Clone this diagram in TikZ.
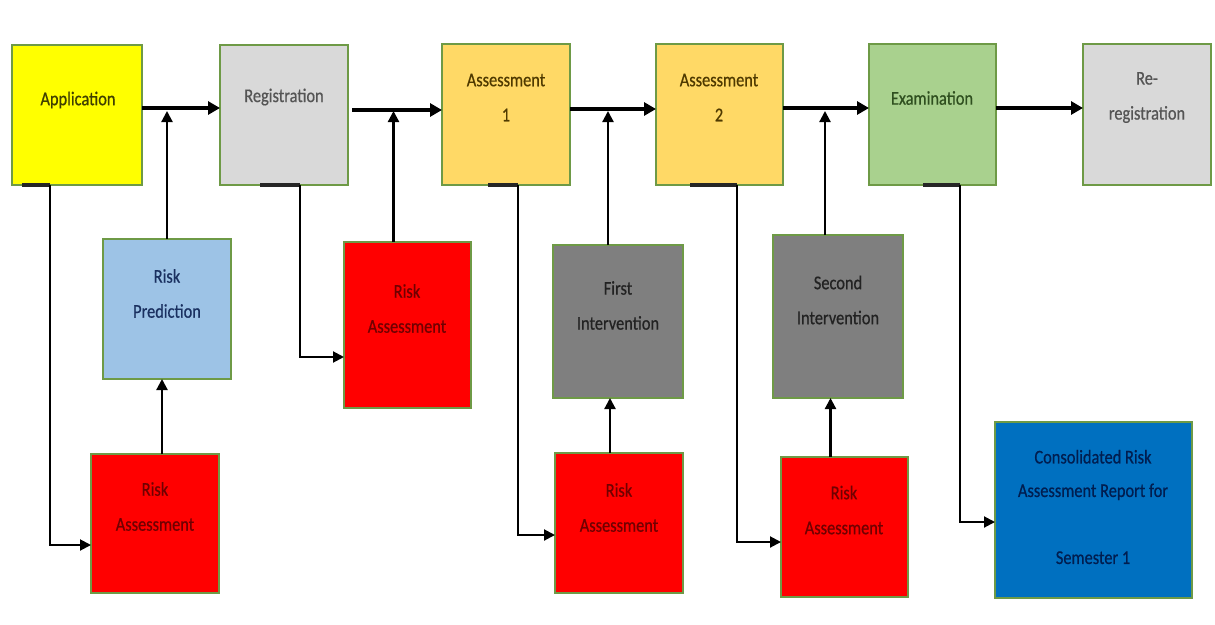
\documentclass[tikz,border=0pt]{standalone}
\usepackage{fontspec}
\setmainfont{Carlito}[FakeStretch=0.84,FakeBold=0.6]
\usetikzlibrary{arrows.meta,calc}
\definecolor{bord}{HTML}{6E9A46}
\definecolor{cyel}{HTML}{FFFF00}
\definecolor{cgry}{HTML}{D9D9D9}
\definecolor{corg}{HTML}{FFD966}
\definecolor{cgrn}{HTML}{A9D18E}
\definecolor{cblu}{HTML}{9DC3E6}
\definecolor{cred}{HTML}{FF0000}
\definecolor{cdgr}{HTML}{7F7F7F}
\definecolor{cnav}{HTML}{0070C0}
\definecolor{tyel}{HTML}{3F3F00}
\definecolor{tgry}{HTML}{555555}
\definecolor{torg}{HTML}{4F3A00}
\definecolor{tgrn}{HTML}{2F4F1F}
\definecolor{tblu}{HTML}{1A3060}
\definecolor{tred}{HTML}{700000}
\definecolor{tdgr}{HTML}{222222}
\definecolor{tnav}{HTML}{001E50}
\begin{document}
\begin{tikzpicture}[x=1pt,y=-1pt,
  box/.style={draw=bord,line width=2.5pt,anchor=north west,inner sep=0pt,outer sep=0pt},
  lbl/.style={font=\fontsize{19.5}{35}\selectfont,align=center,inner sep=0pt},
  arr/.style={line width=3.2pt,-{Triangle[length=12pt,width=13pt]}},
  varr/.style={line width=2.2pt,-{Triangle[length=11pt,width=11pt]}},
  elb/.style={line width=2pt,-{Triangle[length=11pt,width=11pt]}},
  stubline/.style={line width=4pt,black!85}]
\useasboundingbox (0,0) rectangle (1215,624);
% boxes
\node[box,fill=cyel,minimum width=130pt,minimum height=140pt] (app) at (12,45) {};
\node[box,fill=cgry,minimum width=128pt,minimum height=140pt] (reg) at (220,45) {};
\node[box,fill=corg,minimum width=128pt,minimum height=141pt] (as1) at (442,44) {};
\node[box,fill=corg,minimum width=127pt,minimum height=141pt] (as2) at (656,44) {};
\node[box,fill=cgrn,minimum width=127pt,minimum height=141pt] (exam) at (869,44) {};
\node[box,fill=cgry,minimum width=128pt,minimum height=141pt] (rereg) at (1083,44) {};
\node[box,fill=cblu,minimum width=128pt,minimum height=140pt] (rp) at (103,239) {};
\node[box,fill=cred,minimum width=127pt,minimum height=166pt] (ra2) at (344,242) {};
\node[box,fill=cdgr,minimum width=130pt,minimum height=153pt] (fi) at (553,245) {};
\node[box,fill=cdgr,minimum width=130pt,minimum height=163pt] (si) at (773,235) {};
\node[box,fill=cred,minimum width=128pt,minimum height=139pt] (ra1) at (91,454) {};
\node[box,fill=cred,minimum width=128pt,minimum height=140pt] (ra3) at (555,453) {};
\node[box,fill=cred,minimum width=127pt,minimum height=140pt] (ra4) at (781,457) {};
\node[box,fill=cnav,minimum width=197pt,minimum height=176pt] (cons) at (995,422) {};
% texts
\node[lbl,text=tyel] (tapp) at (78,100) {Application};
\node[lbl,text=tgry] (treg) at (284,97) {Registration};
\node[lbl,text=torg] (tas1) at (506,97.5) {Assessment\\1};
\node[lbl,text=torg] (tas2) at (719,97.5) {Assessment\\2};
\node[lbl,text=tgrn] (texam) at (932,98) {Examination};
\node[lbl,text=tgry] (trereg) at (1147,97.5) {Re-\\registration};
\node[lbl,text=tblu] (trp) at (167,293.5) {Risk\\Prediction};
\node[lbl,text=tred] (tra2) at (407,308.5) {Risk\\Assessment};
\node[lbl,text=tdgr] (tfi) at (618,305.5) {First\\Intervention};
\node[lbl,text=tdgr] (tsi) at (838,300) {Second\\Intervention};
\node[lbl,text=tred] (tra1) at (155,506.5) {Risk\\Assessment};
\node[lbl,text=tred] (tra3) at (619,507.5) {Risk\\Assessment};
\node[lbl,text=tred] (tra4) at (844,510) {Risk\\Assessment};
\node[lbl,text=tnav,font=\fontsize{19.5}{33.5}\selectfont] (tcons) at (1093,507) {Consolidated Risk\\Assessment Report for\\\mbox{}\\Semester 1};
% main flow arrows
\draw[arr] ([yshift=7pt]app.east) -- ([yshift=7pt]app.east -| reg.west);
\draw[arr] ([xshift=4pt,yshift=5pt]reg.east) -- ([yshift=5pt]reg.east -| as1.west);
\draw[arr] ([yshift=5.5pt]as1.east) -- ([yshift=5.5pt]as1.east -| as2.west);
\draw[arr] ([yshift=6.5pt]as2.east) -- ([yshift=6.5pt]as2.east -| exam.west);
\draw[arr] ([yshift=6.5pt]exam.east) -- ([yshift=6.5pt]exam.east -| rereg.west);
% tips on main line
\coordinate (hl) at (0,111);
\draw[varr] (rp.north) -- (rp.north |- hl);
\draw[varr] ([xshift=-14pt]ra2.north) -- ([xshift=-14pt]ra2.north |- hl);
\draw[varr] ([xshift=-10pt]fi.north) -- ([xshift=-10pt]fi.north |- hl);
\draw[varr] ([xshift=-13pt]si.north) -- ([xshift=-13pt]si.north |- hl);
% bottom to middle
\draw[varr] ([xshift=7pt]ra1.north) -- ([xshift=7pt]ra1.north |- rp.south);
\draw[varr] ([xshift=-9pt]ra3.north) -- ([xshift=-9pt]ra3.north |- fi.south);
\draw[varr] ([xshift=-14pt]ra4.north) -- ([xshift=-14pt]ra4.north |- si.south);
% elbow connectors
\draw[stubline] ([xshift=10pt]app.south west) -- ([xshift=38pt]app.south west);
\draw[elb] ([xshift=38pt]app.south west) |- ([yshift=-21.5pt]ra1.west);
\draw[stubline] ([xshift=40pt]reg.south west) -- ([xshift=80pt]reg.south west);
\draw[elb] ([xshift=80pt]reg.south west) |- ([yshift=-32pt]ra2.west);
\draw[stubline] ([xshift=46pt]as1.south west) -- ([xshift=76pt]as1.south west);
\draw[elb] ([xshift=76pt]as1.south west) |- ([yshift=-12pt]ra3.west);
\draw[stubline] ([xshift=34pt]as2.south west) -- ([xshift=81pt]as2.south west);
\draw[elb] ([xshift=81pt]as2.south west) |- ([yshift=-15pt]ra4.west);
\draw[stubline] ([xshift=54pt]exam.south west) -- ([xshift=91pt]exam.south west);
\draw[elb] ([xshift=91pt]exam.south west) |- ([yshift=-12pt]cons.west);
\end{tikzpicture}
\end{document}
